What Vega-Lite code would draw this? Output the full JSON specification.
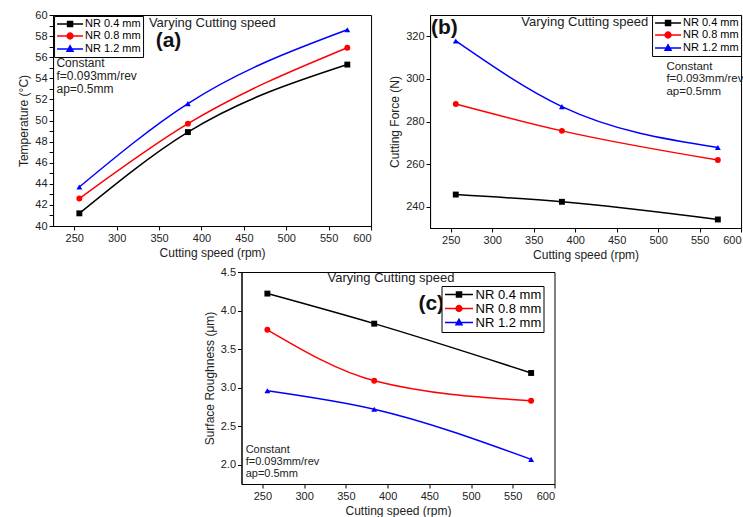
{
  "$schema": "https://vega.github.io/schema/vega-lite/v6.json",
  "background": "white",
  "padding": {"left": 17, "top": 8, "right": 2, "bottom": 2},
  "datasets": {
    "temp": [
      {"speed": 256, "nr": "NR 0.4 mm", "value": 41.2},
      {"speed": 384, "nr": "NR 0.4 mm", "value": 48.9},
      {"speed": 572, "nr": "NR 0.4 mm", "value": 55.3},
      {"speed": 256, "nr": "NR 0.8 mm", "value": 42.6},
      {"speed": 384, "nr": "NR 0.8 mm", "value": 49.7},
      {"speed": 572, "nr": "NR 0.8 mm", "value": 56.9},
      {"speed": 256, "nr": "NR 1.2 mm", "value": 43.7},
      {"speed": 384, "nr": "NR 1.2 mm", "value": 51.6},
      {"speed": 572, "nr": "NR 1.2 mm", "value": 58.6}
    ],
    "force": [
      {"speed": 256, "nr": "NR 0.4 mm", "value": 245.7},
      {"speed": 384, "nr": "NR 0.4 mm", "value": 242.3},
      {"speed": 572, "nr": "NR 0.4 mm", "value": 234.0},
      {"speed": 256, "nr": "NR 0.8 mm", "value": 288.2},
      {"speed": 384, "nr": "NR 0.8 mm", "value": 275.6},
      {"speed": 572, "nr": "NR 0.8 mm", "value": 261.9},
      {"speed": 256, "nr": "NR 1.2 mm", "value": 317.8},
      {"speed": 384, "nr": "NR 1.2 mm", "value": 287.0},
      {"speed": 572, "nr": "NR 1.2 mm", "value": 267.8}
    ],
    "rough": [
      {"speed": 256, "nr": "NR 0.4 mm", "value": 4.22},
      {"speed": 384, "nr": "NR 0.4 mm", "value": 3.83},
      {"speed": 572, "nr": "NR 0.4 mm", "value": 3.19},
      {"speed": 256, "nr": "NR 0.8 mm", "value": 3.75},
      {"speed": 384, "nr": "NR 0.8 mm", "value": 3.09},
      {"speed": 572, "nr": "NR 0.8 mm", "value": 2.83},
      {"speed": 256, "nr": "NR 1.2 mm", "value": 2.96},
      {"speed": 384, "nr": "NR 1.2 mm", "value": 2.72},
      {"speed": 572, "nr": "NR 1.2 mm", "value": 2.07}
    ]
  },
  "vconcat": [
    {
      "hconcat": [
        {
          "width": 318,
          "height": 211,
          "layer": [
            {
              "data": {"name": "temp"},
              "encoding": {
                "x": {"field": "speed", "type": "quantitative", "scale": {"domain": [225, 600], "nice": false, "zero": false},
                  "axis": {"title": "Cutting speed (rpm)", "values": [250, 300, 350, 400, 450, 500, 550, 600]}},
                "y": {"field": "value", "type": "quantitative", "scale": {"domain": [40, 60], "nice": false, "zero": false},
                  "axis": {"title": "Temperature (°C)", "values": [40, 41, 42, 43, 44, 45, 46, 47, 48, 49, 50, 51, 52, 53, 54, 55, 56, 57, 58, 59, 60], "labelExpr": "datum.value % 2 === 0 ? datum.label : ''"}},
                "color": {"field": "nr", "type": "nominal", "scale": {"domain": ["NR 0.4 mm", "NR 0.8 mm", "NR 1.2 mm"], "range": ["#000000", "#ff0000", "#0000ff"]}, "legend": null}
              },
              "layer": [
                {
                  "mark": {"type": "line", "interpolate": "monotone", "strokeWidth": 1.5},
                  "encoding": {
                    "color": {"field": "nr", "type": "nominal", "scale": {"domain": ["NR 0.4 mm", "NR 0.8 mm", "NR 1.2 mm"], "range": ["#000000", "#ff0000", "#0000ff"]},
                      "legend": {"orient": "top-left", "offset": 1, "title": null, "strokeColor": "black", "fillColor": "white", "padding": 2, "rowPadding": 0, "symbolSize": 100, "symbolOffset": 8, "labelOffset": 9, "labelFontSize": 11, "labelColor": "black", "symbolStrokeWidth": 1.5,
                        "encode": {"symbols": {"update": {
                          "shape": {"signal": "datum.value === 'NR 0.4 mm' ? 'M-2.6,0H2.6M-0.5,-0.5H0.5V0.5H-0.5Z' : datum.value === 'NR 0.8 mm' ? 'M-2.6,0H2.6M0.58,0A0.58,0.58,0,1,1,-0.58,0A0.58,0.58,0,1,1,0.58,0Z' : 'M-2.6,0H2.6M0,-0.65L0.6,0.45H-0.6Z'"},
                          "fill": {"signal": "datum.value === 'NR 0.4 mm' ? '#000000' : datum.value === 'NR 0.8 mm' ? '#ff0000' : '#0000ff'"},
                          "stroke": {"signal": "datum.value === 'NR 0.4 mm' ? '#000000' : datum.value === 'NR 0.8 mm' ? '#ff0000' : '#0000ff'"}
                        }}}}}
                  }
                },
                {"transform": [{"filter": "datum.nr === 'NR 0.4 mm'"}], "mark": {"type": "point", "filled": true, "size": 35, "opacity": 1, "shape": "square"}},
                {"transform": [{"filter": "datum.nr === 'NR 0.8 mm'"}], "mark": {"type": "point", "filled": true, "size": 35, "opacity": 1, "shape": "circle"}},
                {"transform": [{"filter": "datum.nr === 'NR 1.2 mm'"}], "mark": {"type": "point", "filled": true, "size": 35, "opacity": 1, "shape": "triangle-up"}}
              ]
            },
            {
              "data": {"values": [{}]},
              "mark": {"type": "text", "text": "Varying Cutting speed", "align": "left", "baseline": "middle", "fontSize": 13, "color": "#222"},
              "encoding": {
                "x": {"datum": 338, "type": "quantitative", "axis": {"title": "Cutting speed (rpm)", "values": [250, 300, 350, 400, 450, 500, 550, 600]}},
                "y": {"datum": 59.2, "type": "quantitative", "axis": {"title": "Temperature (°C)", "values": [40, 41, 42, 43, 44, 45, 46, 47, 48, 49, 50, 51, 52, 53, 54, 55, 56, 57, 58, 59, 60], "labelExpr": "datum.value % 2 === 0 ? datum.label : ''"}}
              }
            },
            {
              "data": {"values": [{}]},
              "mark": {"type": "text", "text": "(a)", "align": "left", "baseline": "middle", "fontSize": 21, "fontWeight": "bold", "color": "#111"},
              "encoding": {
                "x": {"datum": 346, "type": "quantitative", "axis": {"title": "Cutting speed (rpm)", "values": [250, 300, 350, 400, 450, 500, 550, 600]}},
                "y": {"datum": 57.5, "type": "quantitative", "axis": {"title": "Temperature (°C)", "values": [40, 41, 42, 43, 44, 45, 46, 47, 48, 49, 50, 51, 52, 53, 54, 55, 56, 57, 58, 59, 60], "labelExpr": "datum.value % 2 === 0 ? datum.label : ''"}}
              }
            },
            {
              "data": {"values": [{}]},
              "mark": {"type": "text", "text": ["Constant", "f=0.093mm/rev", "ap=0.5mm"], "align": "left", "baseline": "top", "fontSize": 12, "lineHeight": 13, "color": "#222"},
              "encoding": {
                "x": {"datum": 229, "type": "quantitative", "axis": {"title": "Cutting speed (rpm)", "values": [250, 300, 350, 400, 450, 500, 550, 600]}},
                "y": {"datum": 55.9, "type": "quantitative", "axis": {"title": "Temperature (°C)", "values": [40, 41, 42, 43, 44, 45, 46, 47, 48, 49, 50, 51, 52, 53, 54, 55, 56, 57, 58, 59, 60], "labelExpr": "datum.value % 2 === 0 ? datum.label : ''"}}
              }
            }
          ]
        },
        {
          "width": 311,
          "height": 213,
          "layer": [
            {
              "data": {"name": "force"},
              "encoding": {
                "x": {"field": "speed", "type": "quantitative", "scale": {"domain": [225, 600], "nice": false, "zero": false},
                  "axis": {"title": "Cutting speed (rpm)", "values": [250, 300, 350, 400, 450, 500, 550, 600]}},
                "y": {"field": "value", "type": "quantitative", "scale": {"domain": [230, 330], "nice": false, "zero": false},
                  "axis": {"title": "Cutting Force (N)", "values": [240, 260, 280, 300, 320]}},
                "color": {"field": "nr", "type": "nominal", "scale": {"domain": ["NR 0.4 mm", "NR 0.8 mm", "NR 1.2 mm"], "range": ["#000000", "#ff0000", "#0000ff"]}, "legend": null}
              },
              "layer": [
                {
                  "mark": {"type": "line", "interpolate": "monotone", "strokeWidth": 1.5},
                  "encoding": {
                    "color": {"field": "nr", "type": "nominal", "scale": {"domain": ["NR 0.4 mm", "NR 0.8 mm", "NR 1.2 mm"], "range": ["#000000", "#ff0000", "#0000ff"]},
                      "legend": {"orient": "top-right", "offset": 0, "title": null, "strokeColor": "black", "fillColor": "white", "padding": 2, "rowPadding": 0, "symbolSize": 100, "symbolOffset": 8, "labelOffset": 9, "labelFontSize": 11, "labelColor": "black", "symbolStrokeWidth": 1.5,
                        "encode": {"symbols": {"update": {
                          "shape": {"signal": "datum.value === 'NR 0.4 mm' ? 'M-2.6,0H2.6M-0.5,-0.5H0.5V0.5H-0.5Z' : datum.value === 'NR 0.8 mm' ? 'M-2.6,0H2.6M0.58,0A0.58,0.58,0,1,1,-0.58,0A0.58,0.58,0,1,1,0.58,0Z' : 'M-2.6,0H2.6M0,-0.65L0.6,0.45H-0.6Z'"},
                          "fill": {"signal": "datum.value === 'NR 0.4 mm' ? '#000000' : datum.value === 'NR 0.8 mm' ? '#ff0000' : '#0000ff'"},
                          "stroke": {"signal": "datum.value === 'NR 0.4 mm' ? '#000000' : datum.value === 'NR 0.8 mm' ? '#ff0000' : '#0000ff'"}
                        }}}}}
                  }
                },
                {"transform": [{"filter": "datum.nr === 'NR 0.4 mm'"}], "mark": {"type": "point", "filled": true, "size": 35, "opacity": 1, "shape": "square"}},
                {"transform": [{"filter": "datum.nr === 'NR 0.8 mm'"}], "mark": {"type": "point", "filled": true, "size": 35, "opacity": 1, "shape": "circle"}},
                {"transform": [{"filter": "datum.nr === 'NR 1.2 mm'"}], "mark": {"type": "point", "filled": true, "size": 35, "opacity": 1, "shape": "triangle-up"}}
              ]
            },
            {
              "data": {"values": [{}]},
              "mark": {"type": "text", "text": "Varying Cutting speed", "align": "left", "baseline": "middle", "fontSize": 13, "color": "#222"},
              "encoding": {
                "x": {"datum": 335, "type": "quantitative", "axis": {"title": "Cutting speed (rpm)", "values": [250, 300, 350, 400, 450, 500, 550, 600]}},
                "y": {"datum": 326.7, "type": "quantitative", "axis": {"title": "Cutting Force (N)", "values": [240, 260, 280, 300, 320]}}
              }
            },
            {
              "data": {"values": [{}]},
              "mark": {"type": "text", "text": "(b)", "align": "left", "baseline": "middle", "fontSize": 21, "fontWeight": "bold", "color": "#111"},
              "encoding": {
                "x": {"datum": 226, "type": "quantitative", "axis": {"title": "Cutting speed (rpm)", "values": [250, 300, 350, 400, 450, 500, 550, 600]}},
                "y": {"datum": 324, "type": "quantitative", "axis": {"title": "Cutting Force (N)", "values": [240, 260, 280, 300, 320]}}
              }
            },
            {
              "data": {"values": [{}]},
              "mark": {"type": "text", "text": ["Constant", "f=0.093mm/rev", "ap=0.5mm"], "align": "left", "baseline": "top", "fontSize": 11.5, "lineHeight": 12.5, "color": "#222"},
              "encoding": {
                "x": {"datum": 510, "type": "quantitative", "axis": {"title": "Cutting speed (rpm)", "values": [250, 300, 350, 400, 450, 500, 550, 600]}},
                "y": {"datum": 308.5, "type": "quantitative", "axis": {"title": "Cutting Force (N)", "values": [240, 260, 280, 300, 320]}}
              }
            }
          ]
        }
      ],
      "spacing": 16,
      "resolve": {"scale": {"color": "independent"}}
    },
    {
      "width": 313,
      "height": 212,
      "layer": [
        {
          "data": {"name": "rough"},
          "encoding": {
            "x": {"field": "speed", "type": "quantitative", "scale": {"domain": [225, 600], "nice": false, "zero": false},
              "axis": {"title": "Cutting speed (rpm)", "values": [250, 300, 350, 400, 450, 500, 550, 600]}},
            "y": {"field": "value", "type": "quantitative", "scale": {"domain": [1.75, 4.5], "nice": false, "zero": false},
              "axis": {"title": "Surface Roughness (μm)", "format": ".1f", "values": [2.0, 2.5, 3.0, 3.5, 4.0, 4.5]}},
            "color": {"field": "nr", "type": "nominal", "scale": {"domain": ["NR 0.4 mm", "NR 0.8 mm", "NR 1.2 mm"], "range": ["#000000", "#ff0000", "#0000ff"]}, "legend": null}
          },
          "layer": [
            {
              "mark": {"type": "line", "interpolate": "monotone", "strokeWidth": 1.5},
              "encoding": {
                "color": {"field": "nr", "type": "nominal", "scale": {"domain": ["NR 0.4 mm", "NR 0.8 mm", "NR 1.2 mm"], "range": ["#000000", "#ff0000", "#0000ff"]},
                  "legend": {"orient": "none", "legendX": 200, "legendY": 14, "title": null, "strokeColor": "black", "fillColor": "white", "padding": 2, "rowPadding": 0, "symbolSize": 100, "symbolOffset": 9, "labelOffset": 10, "labelFontSize": 13, "labelColor": "black", "symbolStrokeWidth": 1.5,
                    "encode": {"symbols": {"update": {
                      "shape": {"signal": "datum.value === 'NR 0.4 mm' ? 'M-2.8,0H2.8M-0.5,-0.5H0.5V0.5H-0.5Z' : datum.value === 'NR 0.8 mm' ? 'M-2.8,0H2.8M0.58,0A0.58,0.58,0,1,1,-0.58,0A0.58,0.58,0,1,1,0.58,0Z' : 'M-2.8,0H2.8M0,-0.65L0.6,0.45H-0.6Z'"},
                      "fill": {"signal": "datum.value === 'NR 0.4 mm' ? '#000000' : datum.value === 'NR 0.8 mm' ? '#ff0000' : '#0000ff'"},
                      "stroke": {"signal": "datum.value === 'NR 0.4 mm' ? '#000000' : datum.value === 'NR 0.8 mm' ? '#ff0000' : '#0000ff'"}
                    }}}}}
              }
            },
            {"transform": [{"filter": "datum.nr === 'NR 0.4 mm'"}], "mark": {"type": "point", "filled": true, "size": 35, "opacity": 1, "shape": "square"}},
            {"transform": [{"filter": "datum.nr === 'NR 0.8 mm'"}], "mark": {"type": "point", "filled": true, "size": 35, "opacity": 1, "shape": "circle"}},
            {"transform": [{"filter": "datum.nr === 'NR 1.2 mm'"}], "mark": {"type": "point", "filled": true, "size": 35, "opacity": 1, "shape": "triangle-up"}}
          ]
        },
        {
          "data": {"values": [{}]},
          "mark": {"type": "text", "text": "Varying Cutting speed", "align": "left", "baseline": "middle", "fontSize": 13, "color": "#222"},
          "encoding": {
            "x": {"datum": 328, "type": "quantitative", "axis": {"title": "Cutting speed (rpm)", "values": [250, 300, 350, 400, 450, 500, 550, 600]}},
            "y": {"datum": 4.42, "type": "quantitative", "axis": {"title": "Surface Roughness (μm)", "format": ".1f", "values": [2.0, 2.5, 3.0, 3.5, 4.0, 4.5]}}
          }
        },
        {
          "data": {"values": [{}]},
          "mark": {"type": "text", "text": "(c)", "align": "left", "baseline": "middle", "fontSize": 21, "fontWeight": "bold", "color": "#111"},
          "encoding": {
            "x": {"datum": 437, "type": "quantitative", "axis": {"title": "Cutting speed (rpm)", "values": [250, 300, 350, 400, 450, 500, 550, 600]}},
            "y": {"datum": 4.09, "type": "quantitative", "axis": {"title": "Surface Roughness (μm)", "format": ".1f", "values": [2.0, 2.5, 3.0, 3.5, 4.0, 4.5]}}
          }
        },
        {
          "data": {"values": [{}]},
          "mark": {"type": "text", "text": ["Constant", "f=0.093mm/rev", "ap=0.5mm"], "align": "left", "baseline": "top", "fontSize": 11, "lineHeight": 12, "color": "#222"},
          "encoding": {
            "x": {"datum": 230, "type": "quantitative", "axis": {"title": "Cutting speed (rpm)", "values": [250, 300, 350, 400, 450, 500, 550, 600]}},
            "y": {"datum": 2.27, "type": "quantitative", "axis": {"title": "Surface Roughness (μm)", "format": ".1f", "values": [2.0, 2.5, 3.0, 3.5, 4.0, 4.5]}}
          }
        }
      ]
    }
  ],
  "spacing": 4,
  "center": true,
  "resolve": {"scale": {"color": "independent"}},
  "config": {
    "font": "Liberation Sans",
    "view": {"stroke": "black", "strokeWidth": 1},
    "axis": {"domainColor": "black", "tickColor": "black", "labelColor": "#222", "titleColor": "#222", "labelFontSize": 11, "titleFontSize": 12, "titleFontWeight": "normal", "grid": false, "labelPadding": 2, "titlePadding": 4, "tickSize": 4, "labelOverlap": false}
  }
}
